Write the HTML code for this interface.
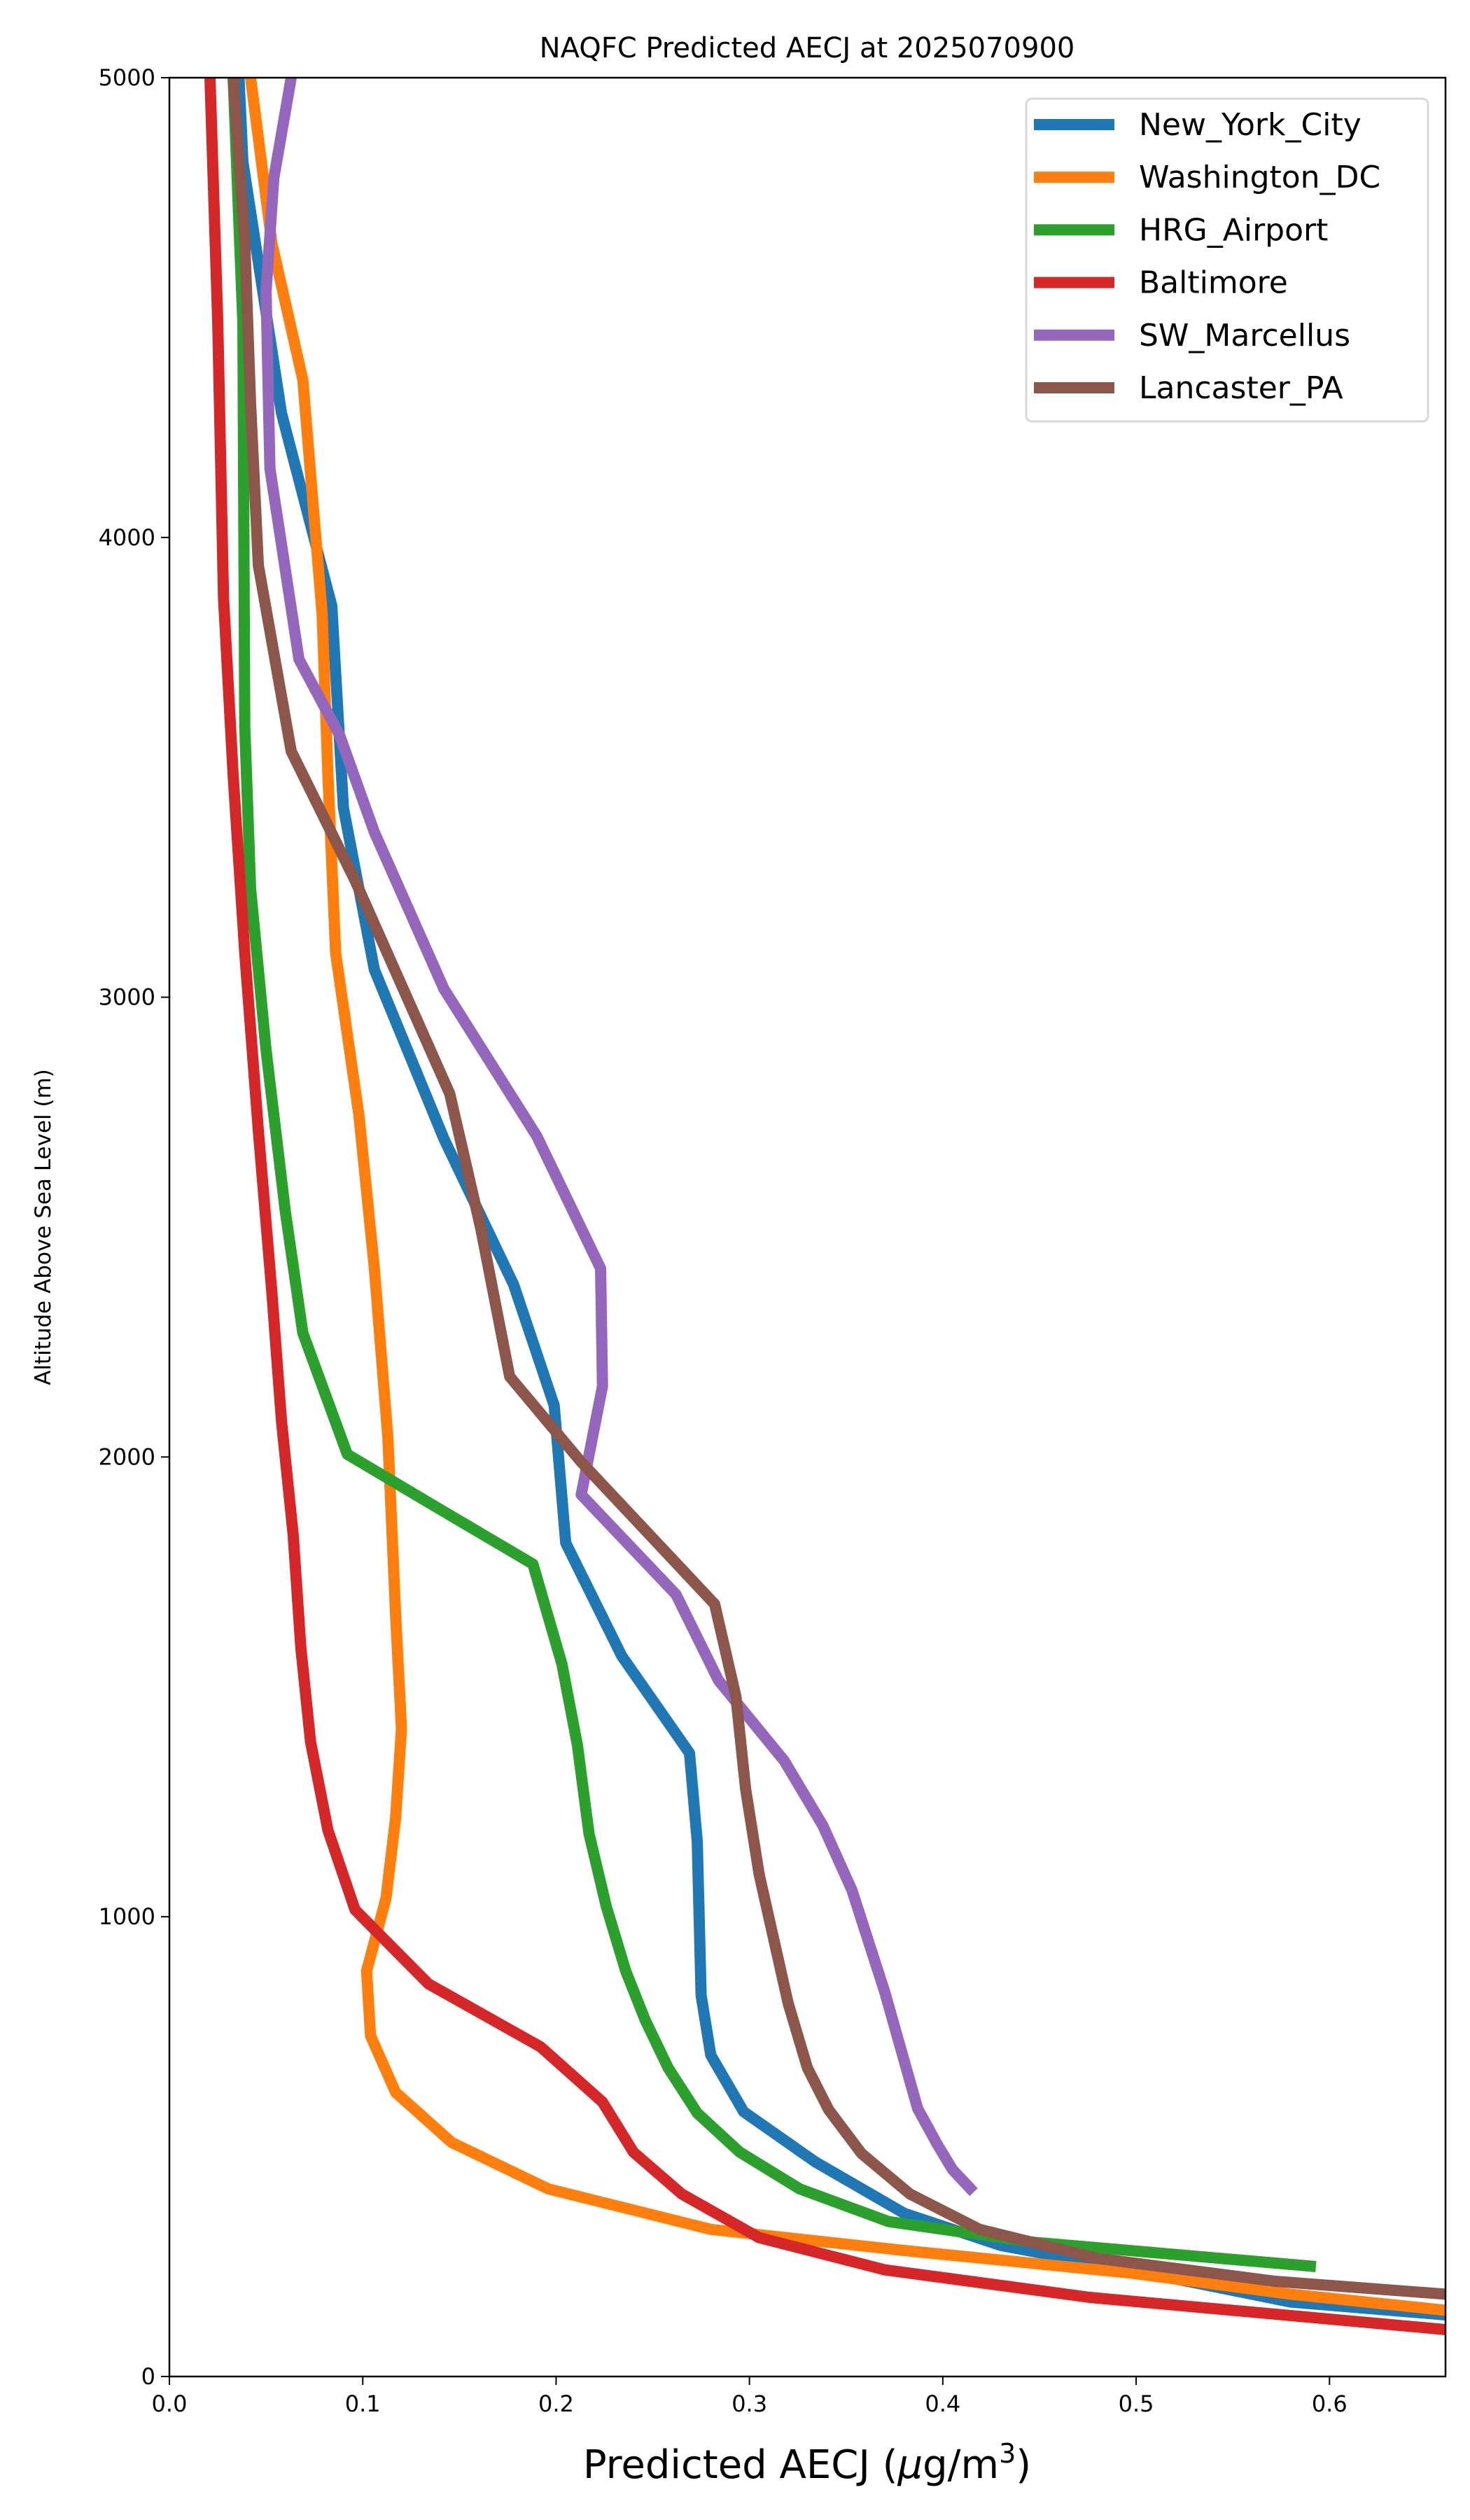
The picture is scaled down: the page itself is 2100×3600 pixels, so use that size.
<!DOCTYPE html>
<html><head><meta charset="utf-8"><style>
body{margin:0;background:#fff;}
svg{display:block;font-family:"DejaVu Sans","Liberation Sans",sans-serif;}
</style></head><body>
<svg id="chart" width="2100" height="3600" viewBox="0 0 2100 3600">
<rect width="2100" height="3600" fill="#fff"/>
<defs><clipPath id="plotclip"><rect x="242" y="111" width="1823" height="3284"/></clipPath></defs>
<text x="1153" y="82" font-size="40" text-anchor="middle">NAQFC Predicted AECJ at 2025070900</text>
<g id="series" clip-path="url(#plotclip)"></g>
<g id="axes"></g>
<text x="1153" y="3540" font-size="56" text-anchor="middle">Predicted AECJ (<tspan font-style="italic">μ</tspan>g/m<tspan baseline-shift="super" font-size="38">3</tspan>)</text>
<text transform="translate(72,1753) rotate(-90)" font-size="31" text-anchor="middle">Altitude Above Sea Level (m)</text>
<g id="legend"></g>
</svg>
<script>
const seriesNames = ["New_York_City","Washington_DC","HRG_Airport","Baltimore","SW_Marcellus","Lancaster_PA"];
const seriesColors = ["#1f77b4","#ff7f0e","#2ca02c","#d62728","#9467bd","#8c564b"];
const nycX = [0.036,0.038,0.058,0.084,0.09,0.106,0.142,0.178,0.199,0.205,0.234,0.269,0.273,0.275,0.28,0.297,0.334,0.38,0.43,0.497,0.58,0.66];
const nycY = [5000,4817,4270,3851,3412,3060,2692,2375,2112,1813,1567,1356,1163,829,699,576,467,355,285,232,162,134];
const dcX = [0.042,0.053,0.069,0.079,0.082,0.086,0.098,0.106,0.113,0.117,0.12,0.117,0.112,0.102,0.104,0.117,0.146,0.196,0.28,0.38,0.497,0.58,0.66];
const dcY = [5000,4640,4343,3833,3482,3096,2744,2410,2042,1655,1409,1216,1040,882,741,618,509,408,320,274,225,179,144];
const hrgX = [0.033,0.038,0.039,0.042,0.05,0.06,0.069,0.092,0.134,0.188,0.203,0.211,0.217,0.226,0.236,0.246,0.258,0.273,0.295,0.326,0.372,0.447,0.593];
const hrgY = [5000,4466,3587,3236,2885,2533,2270,2006,1901,1767,1550,1374,1181,1022,882,776,671,573,488,408,337,292,239];
const balX = [0.021,0.025,0.028,0.033,0.039,0.046,0.053,0.058,0.064,0.068,0.073,0.082,0.096,0.134,0.192,0.224,0.24,0.265,0.305,0.37,0.476,0.66];
const balY = [5000,4466,3869,3482,3096,2709,2358,2077,1831,1585,1381,1188,1015,854,717,597,488,397,302,232,172,102];
const swmX = [0.063,0.054,0.05,0.052,0.067,0.088,0.106,0.142,0.19,0.223,0.224,0.213,0.262,0.284,0.318,0.338,0.353,0.37,0.387,0.397,0.405,0.416];
const swmY = [5000,4782,4536,4150,3735,3570,3359,3018,2698,2410,2154,1918,1701,1514,1339,1198,1058,836,583,506,450,401];
const lanX = [0.033,0.039,0.042,0.046,0.063,0.096,0.145,0.161,0.176,0.213,0.282,0.293,0.298,0.305,0.32,0.33,0.341,0.358,0.383,0.419,0.48,0.572,0.66];
const lanY = [5000,4641,4290,3939,3535,3254,2790,2498,2175,1989,1680,1479,1279,1093,812,671,580,485,397,320,257,207,179];
const xTicks = [0,0.1,0.2,0.3,0.4,0.5,0.6];
const xTickLabels = ["0.0","0.1","0.2","0.3","0.4","0.5","0.6"];
const yTicks = [0,1000,2000,3000,4000,5000];
const yTickLabels = ["0","1000","2000","3000","4000","5000"];

const L=242,R=2065,T=111,B=3395,XMAX=0.66,YMAX=5000;
const sx=v=>L+v/XMAX*(R-L);
const sy=v=>B-v/YMAX*(B-T);
const NS="http://www.w3.org/2000/svg";
function mk(tag,attrs,parent){const e=document.createElementNS(NS,tag);for(const k in attrs)e.setAttribute(k,attrs[k]);parent.appendChild(e);return e;}
const sg=document.getElementById('series');
const allX=[nycX,dcX,hrgX,balX,swmX,lanX], allY=[nycY,dcY,hrgY,balY,swmY,lanY];
const slugs=["new-york-city","washington-dc","hrg-airport","baltimore","sw-marcellus","lancaster-pa"];
for(let i=0;i<6;i++){
  const pts=allX[i].map((x,j)=>sx(x).toFixed(1)+","+sy(allY[i][j]).toFixed(1)).join(" ");
  const pl=mk('polyline',{points:pts,fill:"none",stroke:seriesColors[i],"stroke-width":16,"stroke-linejoin":"round","stroke-linecap":"butt"},sg);
  
  
}
const ax=document.getElementById('axes');
const frame=mk('rect',{x:L,y:T,width:R-L,height:B-T,fill:"none",stroke:"#000","stroke-width":2.5},ax);


xTicks.forEach((v,i)=>{
  const x=sx(v);
  const t=mk('line',{x1:x,x2:x,y1:B,y2:B+12,stroke:"#000","stroke-width":2},ax);
  
  
  const lb=mk('text',{x:x,y:B+50,"font-size":32,"text-anchor":"middle"},ax);
  lb.textContent=xTickLabels[i];
  
  
});
yTicks.forEach((v,i)=>{
  const y=sy(v);
  const t=mk('line',{x1:L-12,x2:L,y1:y,y2:y,stroke:"#000","stroke-width":2},ax);
  
  
  const lb=mk('text',{x:L-20,y:y+11,"font-size":32,"text-anchor":"end"},ax);
  lb.textContent=yTickLabels[i];
  
  
});
const lg=document.getElementById('legend');


const box=mk('rect',{x:1466,y:141,width:574,height:461,rx:8,fill:"#fff",stroke:"#d9d9d9","stroke-width":3},lg);


seriesNames.forEach((n,i)=>{
  const y=178+i*75.2;
  const g=mk('g',{},lg);
  
  
  mk('line',{x1:1477,x2:1592,y1:y,y2:y,stroke:seriesColors[i],"stroke-width":16},g);
  const t=mk('text',{x:1627,y:y+15,"font-size":44},g);
  t.textContent=n;
});
</script>
</body></html>
